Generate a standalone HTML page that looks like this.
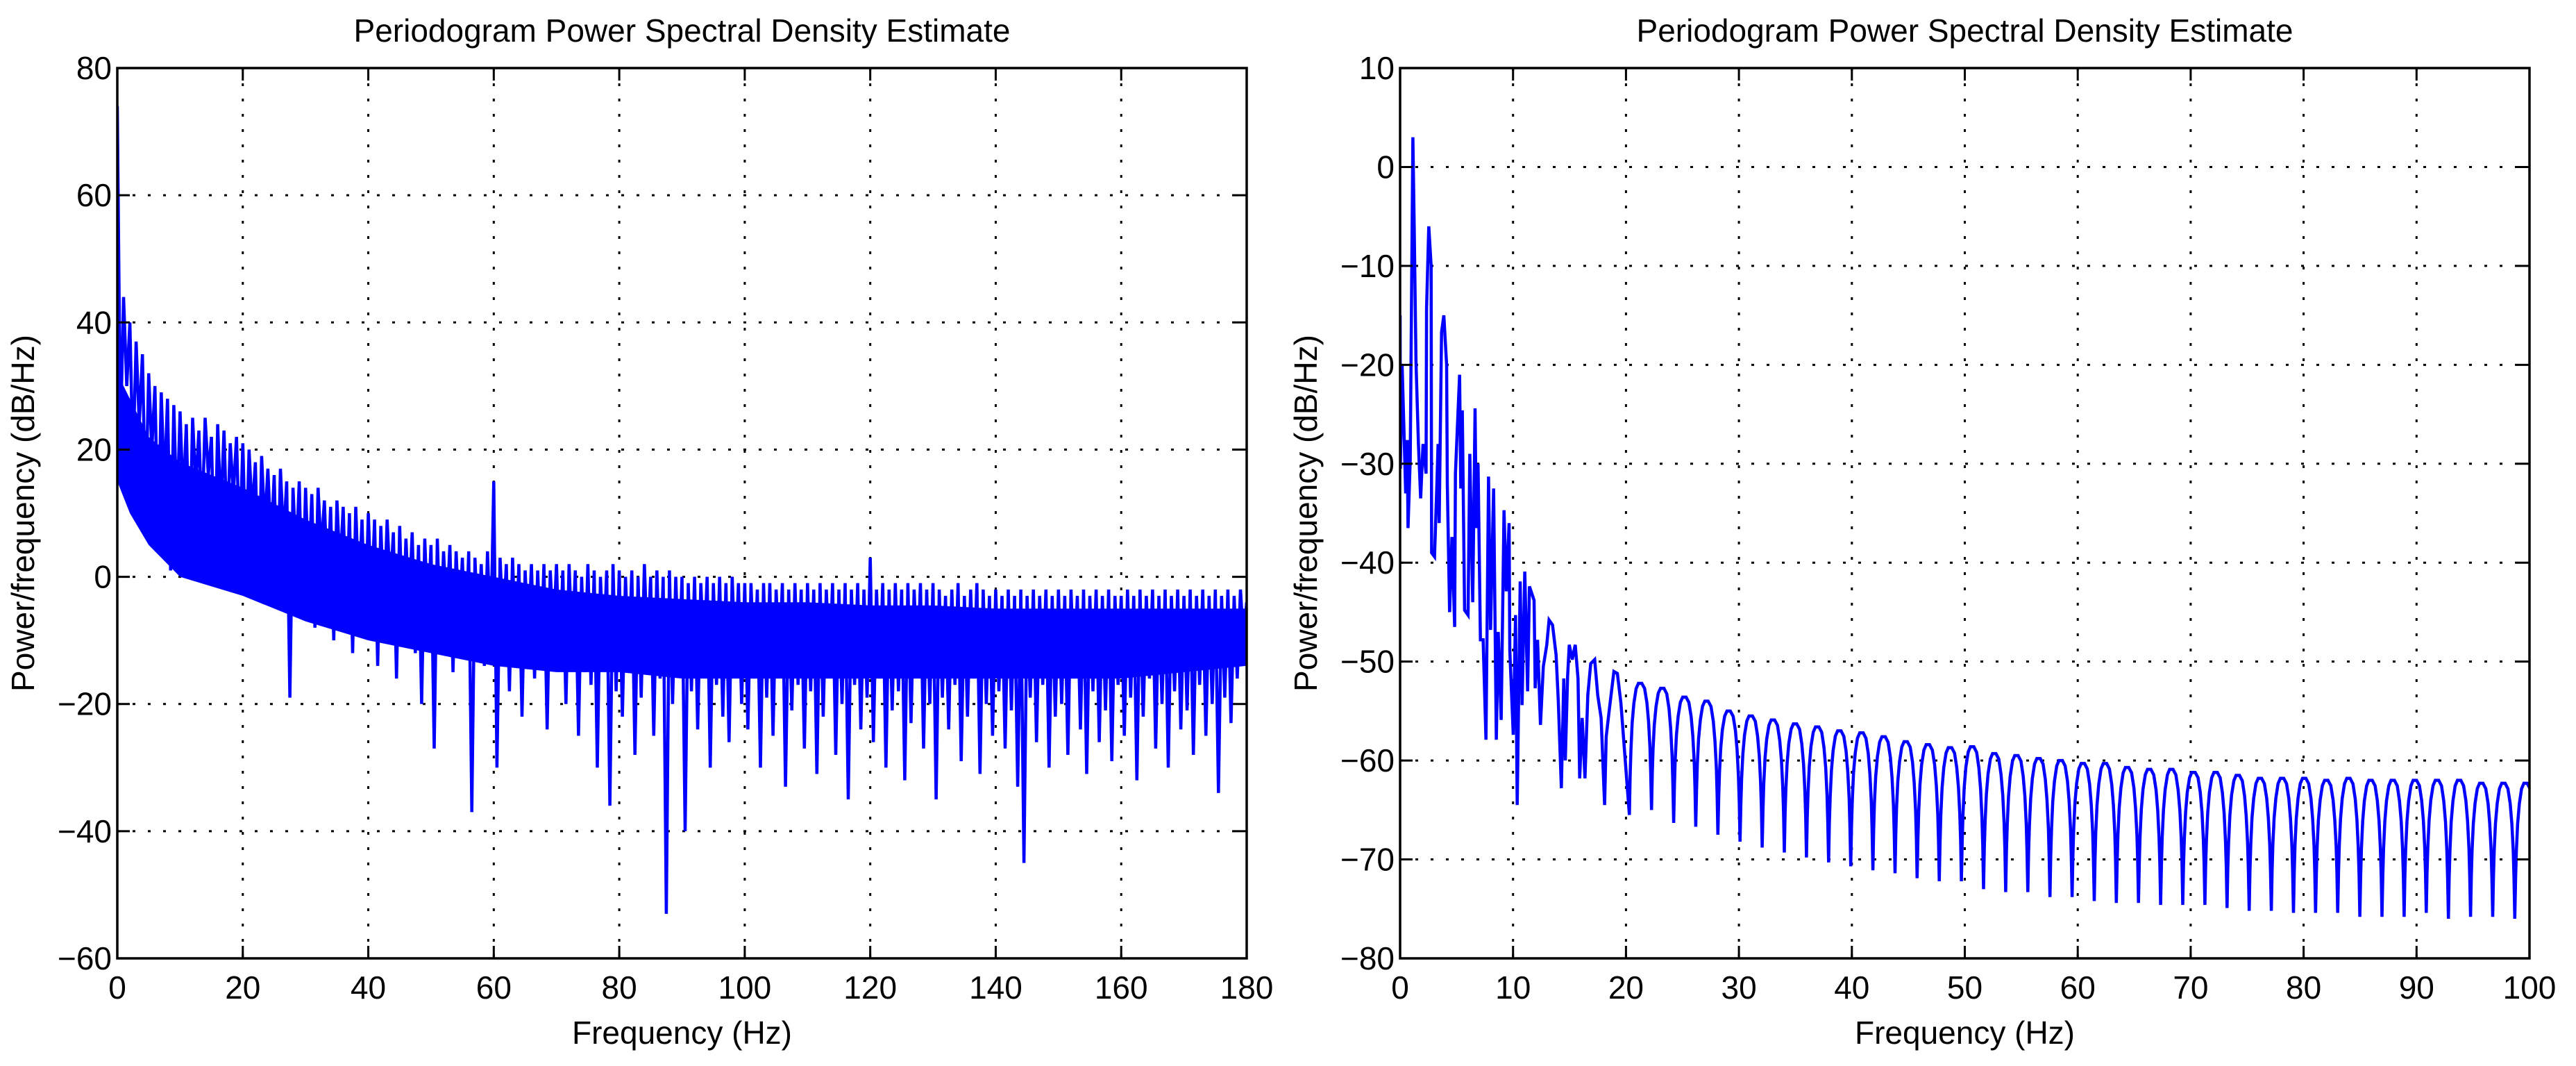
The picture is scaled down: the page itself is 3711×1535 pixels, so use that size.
<!DOCTYPE html>
<html><head><meta charset="utf-8"><style>
html,body{margin:0;padding:0;background:#fff;}
svg{display:block;font-family:"Liberation Sans",Arial,sans-serif;}
</style></head><body>
<svg id="fig" width="3711" height="1535" viewBox="0 0 3711 1535" xmlns="http://www.w3.org/2000/svg">
<rect width="3711" height="1535" fill="#fff"/>
</svg>
<script>
// ---- Left chart data (0.5 Hz steps, dB/Hz) ----
const leftStepHz = 0.5;
const leftValues = [
74,22,44,30,40,18,37,24,35,10,32,20,30,5,29,14,28,1,27,9,
26,12,24,3,25,14,23,8,25,16,22,0,24,10,23,6,21,13,22,4,
21,2,20,10,18,-3,19,8,17,5,16,-4,17,6,15,-19,14,3,15,-6,
14,0,13,-8,14,4,12,-2,11,-10,12,1,11,-6,10,-12,11,-3,9,-8,
10,-4,9,-14,8,-6,9,-2,7,-16,8,-9,6,-5,7,-12,5,-20,6,-7,
5,-27,6,-10,4,-6,5,-15,4,-8,3,-12,4,-37,3,-9,2,-14,4,-11,
15,-30,3,-8,2,-18,3,-12,2,-22,1,-10,2,-16,1,-13,2,-24,1,-9,
2,-14,1,-20,2,-11,1,-25,0,-15,2,-17,1,-30,0,-12,1,-36,2,-18,
1,-22,0,-14,1,-28,0,-19,2,-12,0,-25,1,-16,0,-53,1,-20,0,-15,
0,-40,-1,-18,0,-24,-1,-13,0,-30,-1,-17,0,-22,-1,-26,0,-14,-1,-20,
-1,-24,-1,-16,-2,-30,-1,-19,-1,-25,-2,-14,-1,-33,-2,-21,-1,-17,-2,-27,
-1,-18,-2,-31,-1,-22,-2,-15,-1,-28,-2,-20,-1,-35,-2,-17,-1,-24,-2,-19,
3,-26,-2,-16,-1,-30,-2,-21,-1,-18,-2,-32,-1,-23,-2,-15,-1,-27,-2,-20,
-1,-35,-2,-19,-3,-24,-2,-17,-1,-29,-3,-22,-2,-16,-1,-31,-2,-20,-3,-25,
-2,-18,-3,-27,-2,-21,-3,-33,-2,-45,-3,-19,-2,-26,-3,-17,-2,-30,-3,-22,
-2,-20,-3,-28,-2,-16,-3,-24,-2,-31,-3,-18,-2,-26,-3,-21,-2,-29,-3,-17,
-3,-25,-2,-19,-3,-32,-2,-22,-3,-16,-2,-27,-3,-20,-2,-30,-3,-18,-2,-24,
-3,-21,-2,-28,-3,-17,-2,-25,-3,-20,-2,-34,-3,-19,-2,-23,-3,-16,-2,-10,-4
];
// dense band of the spectrum (read every ~10 Hz)
const leftBandHz = [0,2,5,10,20,30,40,50,60,70,80,90,100,110,120,130,140,150,160,170,180];
const leftBandTop = [32,28,22,18,14,9,5,2,0,-2,-3,-3.5,-4,-4,-4.5,-4.5,-5,-5,-5,-5,-5];
const leftBandBottom = [15,10,5,0,-3,-7,-10,-12,-14,-15,-15,-16,-16,-16,-16,-16,-16,-16,-16,-15,-14];
const leftXTicks = [0,20,40,60,80,100,120,140,160,180];
const leftYTicks = [-60,-40,-20,0,20,40,60,80];

// ---- Right chart data ----
const rightNoisyHz = [0,0.02,0.18,0.35,0.49,0.63,0.70,0.90,1.00,1.13,1.25,1.41,1.62,1.82,2.03,2.30,2.34,2.54,2.75,2.79,3.05,3.26,3.36,3.46,3.67,3.87,4.12,4.18,4.38,4.59,4.83,4.90,5.27,5.37,5.51,5.71,6.02,6.17,6.43,6.64,6.74,6.90,7.11,7.35,7.60,7.83,8.01,8.28,8.52,8.69,8.95,9.20,9.40,9.65,9.71,10.02,10.22,10.37,10.63,10.80,11.04,11.29,11.45,11.86,11.96,12.17,12.43,12.68,12.99,13.19,13.50,13.81,14.01,14.28,14.49,14.63,14.83,14.98,15.24,15.51,15.75,15.90,16.12,16.37,16.62,16.88,17.23,17.50,17.80,18.11,18.25,18.52,18.93,19.24,19.55];
const rightNoisyDb = [-15,-30.5,-20,-27,-33,-27.6,-36.5,-29.5,-14.8,3,-6,-19.7,-28,-33.5,-28,-31,-14.3,-6,-10,-39,-39.4,-32,-28,-36,-16.7,-15,-20,-32,-45,-37.4,-46.5,-31,-21,-32.5,-24.6,-44.8,-45.3,-29,-44,-24.4,-36.5,-30,-47.8,-47.8,-57.9,-31.3,-46.8,-32.5,-57.9,-47,-55.9,-34.7,-42.9,-36,-48.8,-57.4,-45.3,-64.5,-41.9,-54.4,-40.9,-53,-42.4,-43.8,-52.7,-47.8,-56.4,-50.5,-48.3,-45.8,-46.3,-49.3,-54,-62.8,-51.7,-60,-51.5,-48.3,-49.8,-48.3,-51.7,-61.8,-55.7,-61.8,-53.4,-50.2,-49.8,-53.4,-55.7,-64.5,-57.6,-54.9,-51,-51.2,-54.2];
const rightCycleStartHz = 20.3;
const rightCyclePeriodHz = 1.96;
const rightTroughs = [-65.5,-65,-66.3,-66.7,-67.5,-68.2,-68.8,-69.3,-69.8,-70.3,-70.7,-71.1,-71.4,-71.9,-72.2,-72.2,-73,-73.3,-73.3,-73.8,-73.8,-74.2,-74.4,-74.4,-74.6,-74.6,-74.6,-74.9,-75.2,-75.2,-75.4,-75.4,-75.4,-75.8,-75.8,-75.8,-75.4,-76,-75.8,-75.8,-76];
const rightPeaks = [-52.2,-52.7,-53.6,-54,-55,-55.5,-55.9,-56.3,-56.6,-57,-57.2,-57.6,-58.1,-58.4,-58.7,-58.6,-59.3,-59.5,-59.8,-60,-60.3,-60.3,-60.7,-60.9,-60.9,-61.2,-61.2,-61.5,-61.8,-61.8,-61.8,-62,-61.8,-62,-62,-62,-62,-62,-62.3,-62.3,-62.3];
const rightXTicks = [0,10,20,30,40,50,60,70,80,90,100];
const rightYTicks = [-80,-70,-60,-50,-40,-30,-20,-10,0,10];

const NS = "http://www.w3.org/2000/svg";
const svg = document.getElementById('fig');
function mk(tag, attrs, parent){ const e=document.createElementNS(NS,tag); for(const k in attrs) e.setAttribute(k,attrs[k]); (parent||svg).appendChild(e); return e; }

function drawAxes(p){
  const g = mk('g',{});
  
  
  const sx = v => p.x0 + (v - p.xmin)/(p.xmax-p.xmin)*(p.x1-p.x0);
  const sy = v => p.y1 - (v - p.ymin)/(p.ymax-p.ymin)*(p.y1-p.y0);
  p.xt.forEach(t=>{
    const x=sx(t);
    if(t!==p.xmin && t!==p.xmax){
      const l=mk('line',{x1:x,y1:p.y0,x2:x,y2:p.y1,stroke:'#000','stroke-width':3,'stroke-dasharray':'4 18'},g);
      
      
    }
  });
  p.yt.forEach(t=>{
    const y=sy(t);
    if(t!==p.ymin && t!==p.ymax){
      const l=mk('line',{x1:p.x0,y1:y,x2:p.x1,y2:y,stroke:'#000','stroke-width':3,'stroke-dasharray':'4 18'},g);
      
      
    }
  });
  const cp = mk('clipPath',{id:'clip-'+p.name},g);
  mk('rect',{x:p.x0,y:p.y0,width:p.x1-p.x0,height:p.y1-p.y0},cp);
  if(p.band){
    const top = p.band.hz.map((f,i)=>sx(f).toFixed(1)+','+sy(p.band.top[i]).toFixed(1));
    const bot = p.band.hz.map((f,i)=>sx(f).toFixed(1)+','+sy(p.band.bottom[i]).toFixed(1)).reverse();
    const b = mk('polygon',{points:top.concat(bot).join(' '),fill:'#0000ff','clip-path':'url(#clip-'+p.name+')'},g);
    
    
  }
  const pts = p.series.map(([f,v])=>sx(f).toFixed(1)+','+sy(v).toFixed(1)).join(' ');
  const line = mk('polyline',{points:pts,fill:'none',stroke:'#0000ff','stroke-width':4.5,'stroke-linejoin':'miter','clip-path':'url(#clip-'+p.name+')'},g);
  
  
  p.xt.forEach(t=>{
    const x=sx(t);
    mk('line',{x1:x,y1:p.y1,x2:x,y2:p.y1-18,stroke:'#000','stroke-width':3},g);
    mk('line',{x1:x,y1:p.y0,x2:x,y2:p.y0+18,stroke:'#000','stroke-width':3},g);
    const tx=mk('text',{x:x,y:p.y1+58,'font-size':46,'text-anchor':'middle',fill:'#000'},g);
    tx.textContent=t;
    
    
  });
  p.yt.forEach(t=>{
    const y=sy(t);
    mk('line',{x1:p.x0,y1:y,x2:p.x0+18,y2:y,stroke:'#000','stroke-width':3},g);
    mk('line',{x1:p.x1,y1:y,x2:p.x1-18,y2:y,stroke:'#000','stroke-width':3},g);
    const ty=mk('text',{x:p.x0-8,y:y+16,'font-size':46,'text-anchor':'end',fill:'#000'},g);
    ty.textContent=(t<0?'\u2212'+(-t):t);
    
    
  });
  const box=mk('rect',{x:p.x0,y:p.y0,width:p.x1-p.x0,height:p.y1-p.y0,fill:'none',stroke:'#000','stroke-width':3.5},g);
  
  
  const cx=(p.x0+p.x1)/2, cy=(p.y0+p.y1)/2;
  const title=mk('text',{x:cx,y:60,'font-size':46,'text-anchor':'middle',fill:'#000'},g);
  title.textContent='Periodogram Power Spectral Density Estimate';
  
  
  const xl=mk('text',{x:cx,y:1503,'font-size':46,'text-anchor':'middle',fill:'#000'},g);
  xl.textContent='Frequency (Hz)';
  
  
  const yx=p.x0-120;
  const yl=mk('text',{x:yx,y:cy,'font-size':46,'text-anchor':'middle',fill:'#000',transform:'rotate(-90 '+yx+' '+cy+')'},g);
  yl.textContent='Power/frequency (dB/Hz)';
  
  
}

const leftSeries = leftValues.map((v,i)=>[i*leftStepHz, v]);
const rightSeries = rightNoisyHz.map((f,i)=>[f, rightNoisyDb[i]]);
const shape = [[0,0],[0.07,0.3],[0.14,0.5],[0.25,0.7],[0.4,0.85],[0.6,0.96],[0.8,1],[1.1,1],[1.35,0.96],[1.55,0.85],[1.7,0.7],[1.82,0.5],[1.89,0.3],[1.96,0]];
rightTroughs.forEach((tr,k)=>{
  const f0 = rightCycleStartHz + k*rightCyclePeriodHz;
  const pk = rightPeaks[k];
  const nextTr = k+1<rightTroughs.length ? rightTroughs[k+1] : tr;
  shape.forEach(([df,fr],j)=>{
    if(j===shape.length-1) return;
    const base = df<1 ? tr : nextTr;
    rightSeries.push([f0+df*rightCyclePeriodHz/1.96, base + (pk-base)*fr]);
  });
});

drawAxes({name:'left-chart',x0:169,x1:1796,y0:98,y1:1380,xmin:0,xmax:180,ymin:-60,ymax:80,xt:leftXTicks,yt:leftYTicks,series:leftSeries,band:{hz:leftBandHz,top:leftBandTop,bottom:leftBandBottom}});
drawAxes({name:'right-chart',x0:2017,x1:3644,y0:98,y1:1380,xmin:0,xmax:100,ymin:-80,ymax:10,xt:rightXTicks,yt:rightYTicks,series:rightSeries});
</script>
</body></html>
